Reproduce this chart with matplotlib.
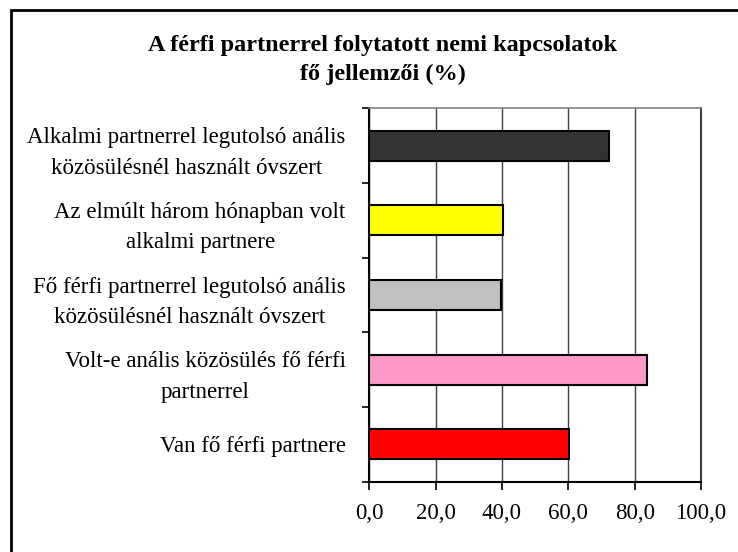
import matplotlib.pyplot as plt
from matplotlib.patches import Rectangle

# data, bottom to top as drawn
categories = [
    'Van fő férfi partnere',
    'Volt-e anális közösülés fő férfi\npartnerrel',
    'Fő férfi partnerrel legutolsó anális\nközösülésnél használt óvszert',
    'Az elmúlt három hónapban volt\nalkalmi partnere',
    'Alkalmi partnerrel legutolsó anális\nközösülésnél használt óvszert',
]
values = [60.2, 83.7, 39.8, 40.4, 72.4]
colors = ['#FF0000', '#FF99CC', '#C0C0C0', '#FFFF00', '#333333']
xticks = [0, 20, 40, 60, 80, 100]
xticklabels = ['0,0', '20,0', '40,0', '60,0', '80,0', '100,0']

plt.rcParams['font.family'] = ['Liberation Serif', 'DejaVu Serif']

fig = plt.figure(figsize=(7.38, 5.52), dpi=100)
# outer chart border (only left/top visible in the crop)
fig.patches.append(Rectangle((11 / 738, -0.1), 1.2, 1 - 10 / 552 + 0.1,
                             transform=fig.transFigure, fill=False,
                             edgecolor='black', linewidth=2))

ax = fig.add_axes([369.3 / 738, 1 - 481.7 / 552, (701 - 369.3) / 738, (481.7 - 108.3) / 552])

pos = list(range(len(categories)))
ax.barh(pos, values, height=0.4, color=colors, edgecolor='black', linewidth=1.5, zorder=3)

ax.set_xlim(0, 100)
ax.set_ylim(-0.5, len(categories) - 0.5)
ax.set_xticks(xticks)
ax.set_xticklabels(xticklabels, fontsize=16.5)
ax.xaxis.grid(True, color='#404040', linewidth=1, zorder=0)
ax.tick_params(axis='x', length=6, width=1.2, pad=9, direction='out')

# boundary ticks as major, labels on minor
ax.set_yticks([p - 0.5 for p in pos] + [pos[-1] + 0.5])
ax.set_yticklabels([])
ax.set_yticks(pos, minor=True)
ax.set_yticklabels(categories, minor=True, fontsize=16.5, multialignment='center', linespacing=1.6)
ax.tick_params(axis='y', which='major', length=5, width=1.2, direction='out')
ax.tick_params(axis='y', which='minor', length=0, pad=17)

ax.spines['left'].set_linewidth(1.5)
ax.spines['bottom'].set_linewidth(1.5)
ax.spines['top'].set_color('#808080')
ax.spines['top'].set_linewidth(1.2)
ax.spines['right'].set_color('#404040')
ax.spines['right'].set_linewidth(1.5)

fig.text(383 / 738, 1 - 80 / 552, 'A férfi partnerrel folytatott nemi kapcsolatok\nfő jellemzői (%)',
         ha='center', va='baseline', fontsize=17.5, fontweight='bold', linespacing=1.5)

fig.savefig('out.png', dpi=100)
